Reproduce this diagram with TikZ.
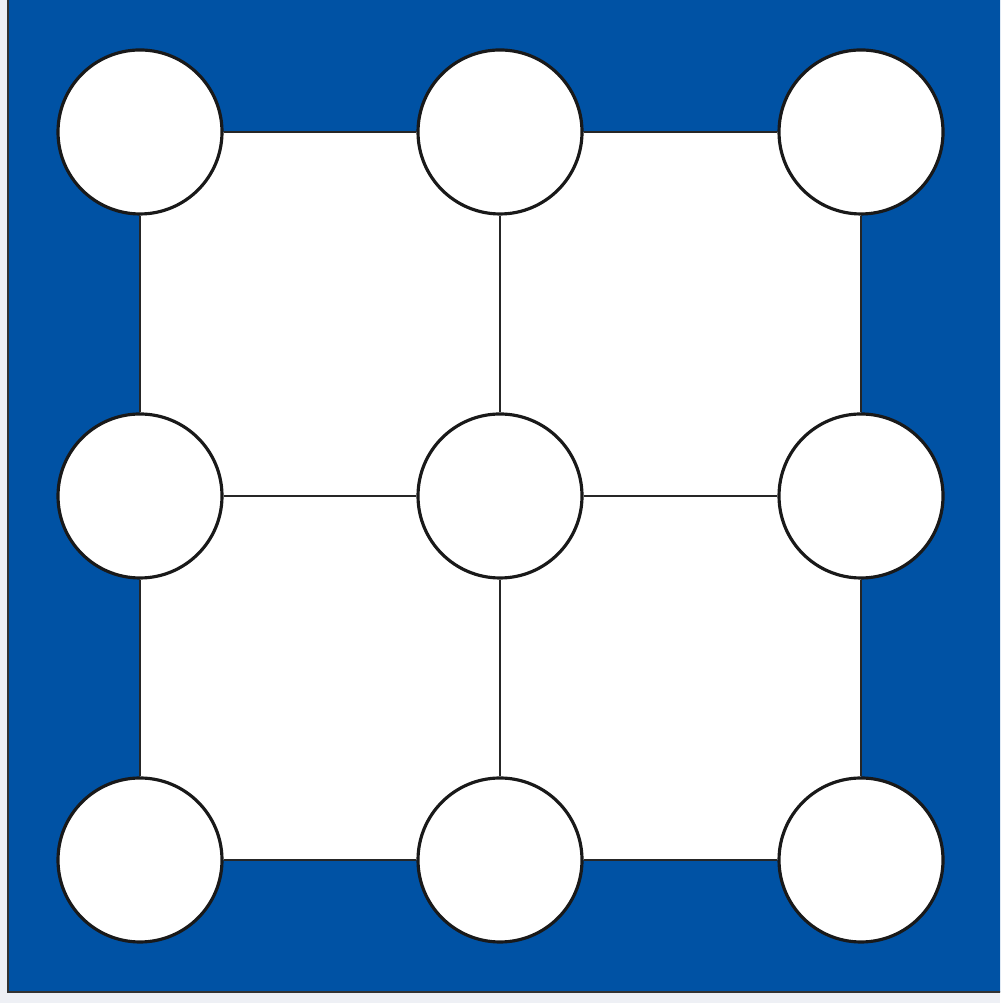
\documentclass[tikz,border=0pt]{standalone}
\usepackage{tikz}
\definecolor{boardblue}{RGB}{0,82,164}
\definecolor{paper}{RGB}{238,240,245}
\tikzset{
  spot/.style={circle, draw=black!90, line width=0.9pt, fill=white,
    minimum size=1.64cm, inner sep=0pt},
  gridline/.style={draw=black!85, line width=0.6pt}
}

\begin{document}
\begin{tikzpicture}
\useasboundingbox (0,0) rectangle (10,10.03);
\clip (0,0) rectangle (10,10.03);
\fill [paper] (0,0) rectangle (10,10.03);
\draw [fill=boardblue, draw=black!80, line width=0.7pt] (0.08,0.11) rectangle (10.3,10.3);
% the nine spots
\foreach \r/\y in {1/8.71, 2/5.07, 3/1.43}
  \foreach \c/\x in {1/1.40, 2/5.00, 3/8.61}
    \coordinate (p\r\c) at (\x,\y);
\fill [white] (p11) rectangle (p33);
\foreach \r in {1,2,3}
  \foreach \c in {1,2,3}
    \node [spot] (n\r\c) at (p\r\c) {};
\foreach \r in {1,2,3} {
  \draw [gridline] (n\r1)--(n\r2) (n\r2)--(n\r3);
  \draw [gridline] (n1\r)--(n2\r) (n2\r)--(n3\r);
}
\end{tikzpicture}
\end{document}
